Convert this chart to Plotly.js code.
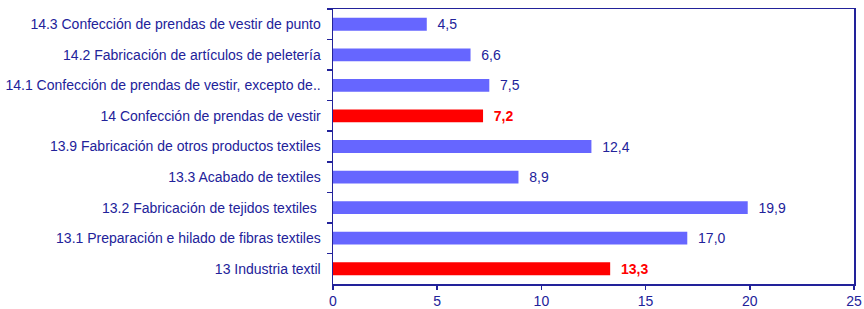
<!DOCTYPE html>
<html>
<head>
<meta charset="utf-8">
<script src="https://cdn.plot.ly/plotly-3.0.1.min.js"></script>
<style>html,body{margin:0;padding:0;background:#fff;}#chart{width:864px;height:309px;}</style>
</head>
<body>
<div id="chart"></div>
<script>
const categories = [
  "14.3 Confección de prendas de vestir de punto",
  "14.2 Fabricación de artículos de peletería",
  "14.1 Confección de prendas de vestir, excepto de..",
  "14 Confección de prendas de vestir",
  "13.9 Fabricación de otros productos textiles",
  "13.3 Acabado de textiles",
  "13.2 Fabricación de tejidos textiles ",
  "13.1 Preparación e hilado de fibras textiles",
  "13 Industria textil"
];
const values = [4.5, 6.6, 7.5, 7.2, 12.4, 8.9, 19.9, 17.0, 13.3];
const isTotal = [false, false, false, true, false, false, false, false, true];
const xTicks = [0, 5, 10, 15, 20, 25];

const NAVY = "#22229a";
const BLUE = "#6666ff";
const RED = "#ff0000";
const FONT = "Liberation Sans, Arial, sans-serif";

const fmt = v => v.toFixed(1).replace(".", ",");
const texts = values.map((v, i) => isTotal[i] ? "  <b>" + fmt(v) + "</b>" : "  " + fmt(v));

const trace = {
  type: "bar",
  orientation: "h",
  y: categories,
  x: values,
  width: 0.42,
  marker: { color: isTotal.map(t => t ? RED : BLUE), line: { width: 0 } },
  text: texts,
  textposition: "outside",
  constraintext: "none",
  cliponaxis: false,
  textfont: { family: FONT, size: 14, color: isTotal.map(t => t ? RED : NAVY) },
  hoverinfo: "none"
};

const layout = {
  width: 864, height: 309,
  margin: { l: 333, r: 10, t: 9, b: 25, pad: 0 },
  paper_bgcolor: "#fff", plot_bgcolor: "#fff",
  showlegend: false,
  font: { family: FONT, size: 14, color: NAVY },
  xaxis: {
    range: [0, 25], tickvals: xTicks, ticktext: xTicks.map(String),
    showgrid: false, zeroline: false,
    showline: true, linecolor: NAVY, linewidth: 1.5, mirror: true,
    ticks: "outside", ticklen: 4, tickcolor: NAVY, tickwidth: 1.5,
    tickfont: { family: FONT, size: 14, color: NAVY }
  },
  yaxis: {
    type: "category", autorange: "reversed",
    showgrid: false, zeroline: false,
    showline: true, linecolor: NAVY, linewidth: 1.5, mirror: true,
    ticks: "outside", tickson: "boundaries", ticklen: 5, tickcolor: NAVY, tickwidth: 1.5,
    ticklabelstandoff: 8,
    tickfont: { family: FONT, size: 14, color: NAVY }
  },
  bargap: 0.58
};

Plotly.newPlot("chart", [trace], layout, { staticPlot: true, displayModeBar: false });
</script>
</body>
</html>
